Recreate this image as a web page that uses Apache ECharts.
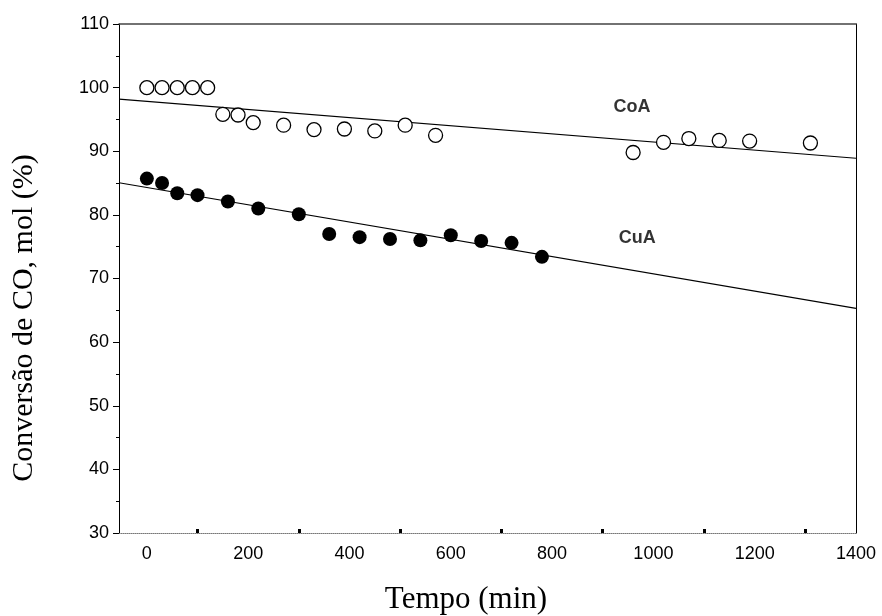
<!DOCTYPE html>
<html>
<head>
<meta charset="utf-8">
<script src="https://cdn.jsdelivr.net/npm/echarts@6/dist/echarts.min.js"></script>
<style>html,body{margin:0;padding:0;background:#fff;}#c{width:882px;height:616px;}</style>
</head>
<body>
<div id="c"></div>
<script>
// CoA (open circles)
var coaTime = [0, 30, 60, 90, 120, 150, 180, 210, 270, 330, 390, 450, 510, 570, 960, 1020, 1070, 1130, 1190, 1310];
var coaConv = [100, 100, 100, 100, 100, 95.8, 95.7, 94.5, 94.1, 93.4, 93.5, 93.2, 94.1, 92.5, 89.8, 91.4, 92.0, 91.7, 91.6, 91.3];
// CuA (filled circles)
var cuaTime = [0, 30, 60, 100, 160, 220, 300, 360, 420, 480, 540, 600, 660, 720, 780];
var cuaConv = [85.7, 85.0, 83.4, 83.1, 82.1, 81.0, 80.1, 77.0, 76.5, 76.2, 76.0, 76.8, 75.9, 75.6, 73.4];
// Linear fits (end points in data units)
var fitTime = [-55, 1400];
var coaFit = [98.2, 88.9];
var cuaFit = [85.05, 65.3];
// Tick labels
var xLabels = [0, 200, 400, 600, 800, 1000, 1200, 1400];
var xTicks = [100, 300, 500, 700, 900, 1100, 1300];
var yLabels = [30, 40, 50, 60, 70, 80, 90, 100, 110];
// Series annotations
var annotations = [
  {name: 'CoA', x: 958, y: 97.0},
  {name: 'CuA', x: 968, y: 76.4}
];

function pairs(xs, ys) { return xs.map(function (x, i) { return [x, ys[i]]; }); }

var chart = echarts.init(document.getElementById('c'));
var option = {
  animation: false,
  backgroundColor: '#fff',
  grid: {left: 119, right: 26, top: 24, bottom: 83},
  xAxis: [{
    type: 'value', min: -55, max: 1400,
    axisLine: {show: true, onZero: false, lineStyle: {color: '#777', width: 1, type: 'dotted'}},
    axisTick: {show: true, inside: true, length: 4, customValues: xTicks, lineStyle: {color: '#000', width: 3}},
    axisLabel: {customValues: xLabels, formatter: function (v) { return String(v); }, color: '#000', fontFamily: 'Liberation Sans, Arial', fontSize: 18, margin: 12},
    splitLine: {show: false}
  }, {
    type: 'value', position: 'top', min: -55, max: 1400,
    axisLine: {show: true, onZero: false, lineStyle: {color: '#444', width: 1.5}},
    axisTick: {show: false}, axisLabel: {show: false}, splitLine: {show: false}
  }],
  yAxis: [{
    type: 'value', min: 30, max: 110, interval: 10,
    axisLine: {show: true, onZero: false, lineStyle: {color: '#000', width: 1}},
    axisTick: {show: true, length: 6, lineStyle: {color: '#000'}},
    minorTick: {show: true, splitNumber: 2, length: 3, lineStyle: {color: '#000'}},
    axisLabel: {customValues: yLabels, formatter: function (v) { return String(v); }, color: '#000', fontFamily: 'Liberation Sans, Arial', fontSize: 18, margin: 10},
    splitLine: {show: false}
  }, {
    type: 'value', position: 'right', min: 30, max: 110,
    axisLine: {show: true, onZero: false, lineStyle: {color: '#000', width: 1}},
    axisTick: {show: false}, axisLabel: {show: false}, splitLine: {show: false}
  }],
  graphic: [
    {type: 'text', x: 466, y: 600, style: {text: 'Tempo (min)', font: '31px "Liberation Serif", "Times New Roman", serif', fill: '#000', textAlign: 'center', textVerticalAlign: 'middle'}},
    {type: 'text', x: 24, y: 318, rotation: Math.PI / 2, style: {text: 'Conversão de CO, mol (%)', font: '30px "Liberation Serif", "Times New Roman", serif', fill: '#000', textAlign: 'center', textVerticalAlign: 'middle'}}
  ],
  series: [
    {type: 'line', data: pairs(fitTime, coaFit), symbol: 'none', lineStyle: {color: '#000', width: 1.2}, z: 2},
    {type: 'line', data: pairs(fitTime, cuaFit), symbol: 'none', lineStyle: {color: '#000', width: 1.2}, z: 2},
    {type: 'scatter', name: 'CoA', data: pairs(coaTime, coaConv), symbol: 'circle', symbolSize: 14,
      itemStyle: {color: '#fff', borderColor: '#000', borderWidth: 1.3, opacity: 1}, z: 3},
    {type: 'scatter', name: 'CuA', data: pairs(cuaTime, cuaConv), symbol: 'circle', symbolSize: 14,
      itemStyle: {color: '#000', opacity: 1}, z: 3},
    {type: 'scatter', data: annotations.map(function (a) { return {value: [a.x, a.y], name: a.name}; }),
      symbolSize: 0, silent: true,
      label: {show: true, position: 'inside', formatter: '{b}', color: '#000', fontFamily: 'Liberation Sans, Arial', fontWeight: 'bold', fontSize: 18}}
  ]
};
chart.setOption(option);
</script>
</body>
</html>
